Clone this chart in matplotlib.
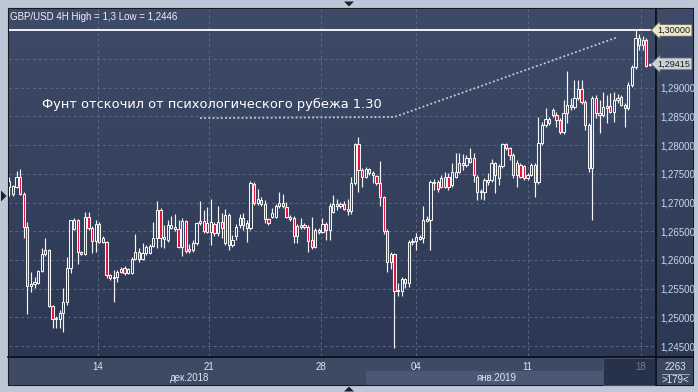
import numpy as np
import matplotlib
matplotlib.use("Agg")
import matplotlib.pyplot as plt
from matplotlib.patches import Rectangle, Polygon
from matplotlib.colors import LinearSegmentedColormap
from matplotlib.ticker import FixedLocator, FuncFormatter
import matplotlib.transforms as mtransforms

# ---------------- data (GBP/USD 4H candles) ----------------
opens = [1.2727, 1.2715, 1.2727, 1.2744, 1.2715, 1.2657, 1.2554, 1.2558, 1.2560, 1.2581,
         1.2610, 1.2617, 1.2520, 1.2497, 1.2497, 1.2508, 1.2527, 1.2586, 1.2654, 1.2670,
         1.2614, 1.2610, 1.2675, 1.2655, 1.2633, 1.2662, 1.2631, 1.2631, 1.2574, 1.2568,
         1.2570, 1.2579, 1.2586, 1.2577, 1.2577, 1.2601, 1.2614, 1.2601, 1.2612, 1.2612,
         1.2624, 1.2638, 1.2687, 1.2636, 1.2635, 1.2655, 1.2657, 1.2654, 1.2622, 1.2668,
         1.2615, 1.2617, 1.2629, 1.2664, 1.2668, 1.2649, 1.2649, 1.2662, 1.2647, 1.2666,
         1.2629, 1.2678, 1.2626, 1.2642, 1.2661, 1.2673, 1.2664, 1.2655, 1.2732, 1.2699,
         1.2697, 1.2697, 1.2671, 1.2675, 1.2675, 1.2694, 1.2699, 1.2692, 1.2671, 1.2673,
         1.2642, 1.2657, 1.2661, 1.2657, 1.2635, 1.2622, 1.2649, 1.2649, 1.2662, 1.2652,
         1.2684, 1.2694, 1.2694, 1.2697, 1.2685, 1.2685, 1.2734, 1.2802, 1.2757, 1.2744,
         1.2758, 1.2751, 1.2746, 1.2734, 1.2710, 1.2650, 1.2596, 1.2610, 1.2546, 1.2546,
         1.2567, 1.2560, 1.2631, 1.2633, 1.2636, 1.2638, 1.2668, 1.2670, 1.2734, 1.2736,
         1.2727, 1.2744, 1.2744, 1.2731, 1.2744, 1.2753, 1.2765, 1.2765, 1.2770, 1.2777,
         1.2744, 1.2718, 1.2718, 1.2736, 1.2739, 1.2769, 1.2743, 1.2764, 1.2802, 1.2795,
         1.2783, 1.2748, 1.2765, 1.2764, 1.2743, 1.2748, 1.2765, 1.2736, 1.2804, 1.2835,
         1.2845, 1.2861, 1.2852, 1.2844, 1.2823, 1.2856, 1.2866, 1.2866, 1.2882, 1.2898,
         1.2875, 1.2835, 1.2760, 1.2882, 1.2852, 1.2852, 1.2865, 1.2868, 1.2858, 1.2879,
         1.2884, 1.2870, 1.2865, 1.2905, 1.2936, 1.2987, 1.2974, 1.2983, 1.2940]
highs = [1.2744, 1.2731, 1.2755, 1.2758, 1.2718, 1.2666, 1.2579, 1.2570, 1.2582, 1.2621,
         1.2638, 1.2619, 1.2522, 1.2502, 1.2513, 1.2551, 1.2605, 1.2670, 1.2673, 1.2671,
         1.2615, 1.2684, 1.2684, 1.2659, 1.2670, 1.2666, 1.2641, 1.2633, 1.2575, 1.2582,
         1.2582, 1.2588, 1.2589, 1.2586, 1.2605, 1.2645, 1.2621, 1.2629, 1.2626, 1.2627,
         1.2666, 1.2703, 1.2691, 1.2661, 1.2670, 1.2677, 1.2680, 1.2670, 1.2673, 1.2670,
         1.2627, 1.2635, 1.2666, 1.2703, 1.2687, 1.2692, 1.2706, 1.2666, 1.2694, 1.2682,
         1.2689, 1.2682, 1.2643, 1.2663, 1.2680, 1.2682, 1.2670, 1.2737, 1.2736, 1.2724,
         1.2710, 1.2704, 1.2673, 1.2691, 1.2697, 1.2718, 1.2715, 1.2701, 1.2678, 1.2677,
         1.2663, 1.2673, 1.2664, 1.2661, 1.2675, 1.2655, 1.2655, 1.2673, 1.2666, 1.2699,
         1.2713, 1.2706, 1.2701, 1.2703, 1.2706, 1.2744, 1.2804, 1.2814, 1.2760, 1.2762,
         1.2760, 1.2755, 1.2748, 1.2772, 1.2711, 1.2654, 1.2614, 1.2612, 1.2560, 1.2570,
         1.2568, 1.2635, 1.2638, 1.2647, 1.2643, 1.2694, 1.2677, 1.2739, 1.2741, 1.2739,
         1.2748, 1.2753, 1.2751, 1.2769, 1.2786, 1.2786, 1.2784, 1.2783, 1.2795, 1.2786,
         1.2748, 1.2723, 1.2743, 1.2751, 1.2776, 1.2770, 1.2767, 1.2804, 1.2804, 1.2797,
         1.2786, 1.2774, 1.2769, 1.2765, 1.2751, 1.2769, 1.2769, 1.2849, 1.2840, 1.2865,
         1.2849, 1.2865, 1.2858, 1.2847, 1.2879, 1.2929, 1.2882, 1.2913, 1.2913, 1.2913,
         1.2879, 1.2838, 1.2885, 1.2887, 1.2879, 1.2892, 1.2887, 1.2891, 1.2892, 1.2889,
         1.2887, 1.2873, 1.2910, 1.2940, 1.3000, 1.2993, 1.2990, 1.2987, 1.2943]
lows = [1.2711, 1.2711, 1.2725, 1.2713, 1.2638, 1.2506, 1.2544, 1.2551, 1.2558, 1.2579,
        1.2607, 1.2518, 1.2482, 1.2482, 1.2482, 1.2475, 1.2522, 1.2577, 1.2652, 1.2593,
        1.2609, 1.2609, 1.2652, 1.2612, 1.2614, 1.2629, 1.2629, 1.2568, 1.2565, 1.2527,
        1.2562, 1.2577, 1.2574, 1.2575, 1.2575, 1.2600, 1.2596, 1.2600, 1.2609, 1.2610,
        1.2622, 1.2621, 1.2622, 1.2621, 1.2631, 1.2654, 1.2650, 1.2621, 1.2607, 1.2612,
        1.2612, 1.2614, 1.2626, 1.2661, 1.2647, 1.2647, 1.2626, 1.2641, 1.2641, 1.2638,
        1.2626, 1.2617, 1.2622, 1.2635, 1.2655, 1.2652, 1.2631, 1.2652, 1.2696, 1.2696,
        1.2694, 1.2664, 1.2661, 1.2673, 1.2673, 1.2690, 1.2690, 1.2673, 1.2668, 1.2629,
        1.2629, 1.2654, 1.2654, 1.2614, 1.2619, 1.2621, 1.2645, 1.2647, 1.2635, 1.2635,
        1.2682, 1.2687, 1.2690, 1.2687, 1.2678, 1.2680, 1.2731, 1.2718, 1.2727, 1.2743,
        1.2748, 1.2734, 1.2731, 1.2694, 1.2645, 1.2579, 1.2584, 1.2446, 1.2537, 1.2537,
        1.2551, 1.2553, 1.2626, 1.2617, 1.2635, 1.2629, 1.2666, 1.2617, 1.2722, 1.2718,
        1.2725, 1.2725, 1.2722, 1.2727, 1.2743, 1.2751, 1.2757, 1.2762, 1.2769, 1.2736,
        1.2704, 1.2706, 1.2704, 1.2731, 1.2736, 1.2717, 1.2731, 1.2760, 1.2791, 1.2774,
        1.2743, 1.2727, 1.2743, 1.2739, 1.2739, 1.2746, 1.2710, 1.2732, 1.2800, 1.2832,
        1.2835, 1.2849, 1.2832, 1.2819, 1.2819, 1.2839, 1.2861, 1.2863, 1.2879, 1.2872,
        1.2826, 1.2753, 1.2670, 1.2847, 1.2821, 1.2849, 1.2839, 1.2856, 1.2840, 1.2873,
        1.2868, 1.2832, 1.2861, 1.2901, 1.2933, 1.2966, 1.2966, 1.2936, 1.2938]
closes = [1.2738, 1.2729, 1.2744, 1.2715, 1.2657, 1.2554, 1.2558, 1.2562, 1.2581, 1.2610,
          1.2617, 1.2520, 1.2497, 1.2499, 1.2508, 1.2527, 1.2586, 1.2670, 1.2670, 1.2614,
          1.2610, 1.2675, 1.2655, 1.2633, 1.2662, 1.2631, 1.2638, 1.2574, 1.2568, 1.2570,
          1.2579, 1.2584, 1.2577, 1.2584, 1.2601, 1.2614, 1.2601, 1.2612, 1.2622, 1.2624,
          1.2638, 1.2687, 1.2638, 1.2640, 1.2661, 1.2661, 1.2654, 1.2622, 1.2668, 1.2615,
          1.2619, 1.2629, 1.2664, 1.2668, 1.2650, 1.2664, 1.2666, 1.2647, 1.2666, 1.2655,
          1.2678, 1.2626, 1.2635, 1.2657, 1.2673, 1.2661, 1.2655, 1.2734, 1.2699, 1.2706,
          1.2704, 1.2671, 1.2664, 1.2682, 1.2694, 1.2699, 1.2694, 1.2675, 1.2675, 1.2642,
          1.2659, 1.2661, 1.2657, 1.2633, 1.2622, 1.2652, 1.2652, 1.2662, 1.2652, 1.2694,
          1.2697, 1.2697, 1.2697, 1.2689, 1.2689, 1.2734, 1.2802, 1.2757, 1.2744, 1.2758,
          1.2751, 1.2748, 1.2734, 1.2710, 1.2650, 1.2596, 1.2610, 1.2546, 1.2548, 1.2567,
          1.2560, 1.2631, 1.2633, 1.2640, 1.2640, 1.2670, 1.2671, 1.2736, 1.2736, 1.2723,
          1.2743, 1.2727, 1.2727, 1.2753, 1.2753, 1.2769, 1.2769, 1.2777, 1.2777, 1.2748,
          1.2718, 1.2720, 1.2739, 1.2739, 1.2769, 1.2748, 1.2764, 1.2802, 1.2795, 1.2783,
          1.2748, 1.2769, 1.2744, 1.2743, 1.2748, 1.2765, 1.2736, 1.2804, 1.2835, 1.2845,
          1.2838, 1.2852, 1.2844, 1.2823, 1.2856, 1.2870, 1.2870, 1.2882, 1.2898, 1.2875,
          1.2835, 1.2760, 1.2882, 1.2856, 1.2856, 1.2866, 1.2868, 1.2858, 1.2879, 1.2882,
          1.2870, 1.2865, 1.2905, 1.2936, 1.2987, 1.2974, 1.2983, 1.2938, 1.29415]

day_ticks = [25.5, 56.5, 87.5, 114, 145, 176.5]
day_labels = ["14", "21", "28", "04", "11", "18"]
month_labels = ["дек.2018", "янв.2019"]
price_ticks = [1.245, 1.250, 1.255, 1.260, 1.265, 1.270, 1.275, 1.280, 1.285, 1.290, 1.295, 1.300]
level_high = 1.30
last_price = 1.29415
title_text = "GBP/USD 4H High = 1,3 Low = 1,2446"
note_text = "Фунт отскочил от психологического рубежа 1.30"
note_path_x = [54, 108, 170]
note_path_y = [1.2847, 1.2849, 1.2988]
bars_total = "2263"
bars_visible = ">179<"

# ---------------- figure ----------------
W, H = 698, 392
fig = plt.figure(figsize=(W / 100, H / 100), dpi=100)
fig.patch.set_facecolor('#bdc8d7')
FONT = ['Liberation Sans', 'DejaVu Sans']

bg = fig.add_axes([0, 0, 1, 1])
bg.set_xlim(0, W)
bg.set_ylim(H, 0)
bg.axis('off')

# panel frame
bg.add_patch(Rectangle((8, 8), 685, 377, fc='#2f3b55', ec='#141a26', lw=0.8))
# right price panel gradient
grad = np.linspace(0, 1, 256).reshape(-1, 1)
cmap_bg = LinearSegmentedColormap.from_list('bgc', ['#3e4b68', '#2c3853'])
bg.imshow(grad, extent=[656, 693, 356, 9], cmap=cmap_bg, aspect='auto', zorder=1)
# bottom date strip
bg.add_patch(Rectangle((9, 358), 646, 27, fc='#3d4a64', ec='none', zorder=1))
bg.add_patch(Rectangle((366, 371), 237, 13.5, fc='#4a5875', ec='none', zorder=1))
bg.add_patch(Rectangle((603, 358), 52, 27, fc='#26314a', ec='#4a5670', lw=0.6, zorder=1))
bg.add_patch(Rectangle((656, 358), 37, 27, fc='#3a4761', ec='none', zorder=1))
bg.plot([8, 693], [357, 357], color='#0a0d14', lw=1.2, zorder=2)
bg.plot([655.5, 655.5], [9, 385], color='#0a0d14', lw=1.2, zorder=2)
# navigation triangles
bg.add_patch(Polygon([(344, 1.5), (354, 1.5), (349, 6.5)], closed=True, fc='#1b2230', ec='none', zorder=2))
bg.add_patch(Polygon([(344, 391.5), (354, 391.5), (349, 386.5)], closed=True, fc='#1b2230', ec='none', zorder=2))
bg.add_patch(Polygon([(1, 190.5), (1, 201.5), (6.5, 196)], closed=True, fc='#1b2230', ec='none', zorder=2))

# bottom-right counters
bg.text(675, 367.5, bars_total, color='#dde6f0', fontsize=7, family=FONT, ha='center', va='center', zorder=3)
bg.plot([662, 689], [373.5, 373.5], color='#9aa8bb', lw=0.7, zorder=3)
bg.text(675, 380, bars_visible, color='#dde6f0', fontsize=7, family=FONT, ha='center', va='center', zorder=3)

# month labels
bg.text(190, 378, month_labels[0], color='#dce4ee', fontsize=7, family=FONT, ha='center', va='center', zorder=3)
bg.text(497, 378, month_labels[1], color='#dce4ee', fontsize=7, family=FONT, ha='center', va='center', zorder=3)

# ---------------- main chart axes ----------------
x0, x1, y0, y1 = 9, 655, 9, 356
ax = fig.add_axes([x0 / W, (H - y1) / H, (x1 - x0) / W, (y1 - y0) / H])
xlim = (0.9, 180.4)
ylim = (1.24326, 1.30371)
ax.set_xlim(*xlim)
ax.set_ylim(*ylim)
for s in ax.spines.values():
    s.set_visible(False)
ax.imshow(grad, extent=[xlim[0], xlim[1], ylim[0], ylim[1]], cmap=cmap_bg,
          aspect='auto', zorder=0, origin='upper')
ax.set_xlim(*xlim)
ax.set_ylim(*ylim)

ax.yaxis.set_major_locator(FixedLocator(price_ticks))
ax.yaxis.set_major_formatter(FuncFormatter(
    lambda v, p: '' if v > 1.2925 else ('%.5f' % v).replace('.', ',')))
ax.yaxis.tick_right()
ax.tick_params(axis='y', length=0, pad=3.5, labelsize=7, labelcolor='#c6daf0')
for lab in ax.get_yticklabels():
    lab.set_family(FONT)

ax.set_xticks(day_ticks)
ax.set_xticklabels(day_labels)
ax.tick_params(axis='x', length=0, pad=4, labelsize=7, labelcolor='#dce4ee')
for lab in ax.get_xticklabels():
    lab.set_family(FONT)
ax.get_xticklabels()[-1].set_color('#6f7c92')

ax.grid(True, color='#5a6883', linestyle=(0, (3, 3)), linewidth=0.7, zorder=1)
ax.set_axisbelow(True)

# candles
n = len(opens)
idx = np.arange(1, n + 1)
bw = 0.62
up_col = '#f4f4f4'
dn_col = '#e5103b'
for i, o, h, l, c in zip(idx, opens, highs, lows, closes):
    top = max(o, c)
    bot = min(o, c)
    ax.plot([i, i], [top, h], color=up_col, lw=0.85, zorder=3, solid_capstyle='butt')
    ax.plot([i, i], [l, bot], color=up_col, lw=0.85, zorder=3, solid_capstyle='butt')
    hgt = max(top - bot, 0.00004)
    face = dn_col if c < o else 'none'
    ax.add_patch(Rectangle((i - bw / 2, bot), bw, hgt, fc=face, ec=up_col, lw=0.75, zorder=4))

# high level line
ax.axhline(level_high, color='white', lw=1.3, zorder=2)

# annotation line and text
ax.plot(note_path_x, note_path_y, color='#c5cad2', lw=1.3, linestyle=(0, (1, 1.3)), zorder=5)
ax.text(10.1, 1.2870, note_text, color='white', fontsize=9.4, family=['DejaVu Sans'],
        va='center', ha='left', zorder=6)

# title
ax.text(0.002, 0.977, title_text, transform=ax.transAxes, color='#eef2f7', fontsize=7,
        family=FONT, va='center', ha='left', zorder=6)

# price tags (right aligned inside the price panel)
trans = mtransforms.blended_transform_factory(ax.transAxes, ax.transData)
tag_x = 1.0 + 35.5 / 646
ax.text(tag_x, level_high, ('%.5f' % level_high).replace('.', ','), transform=trans,
        color='#1c1c1c', fontsize=6.6, family=FONT, va='center', ha='right', zorder=7, clip_on=False,
        bbox=dict(boxstyle='larrow,pad=0.16', fc='#ebe7cd', ec='#5a5a55', lw=0.6))
ax.text(tag_x, last_price, ('%.5f' % last_price).replace('.', ','), transform=trans,
        color='#1c1c1c', fontsize=6.6, family=FONT, va='center', ha='right', zorder=7, clip_on=False,
        bbox=dict(boxstyle='larrow,pad=0.16', fc='#cdd2d8', ec='#5a5a60', lw=0.6))

fig.savefig('out.png', dpi=100, facecolor=fig.get_facecolor())
